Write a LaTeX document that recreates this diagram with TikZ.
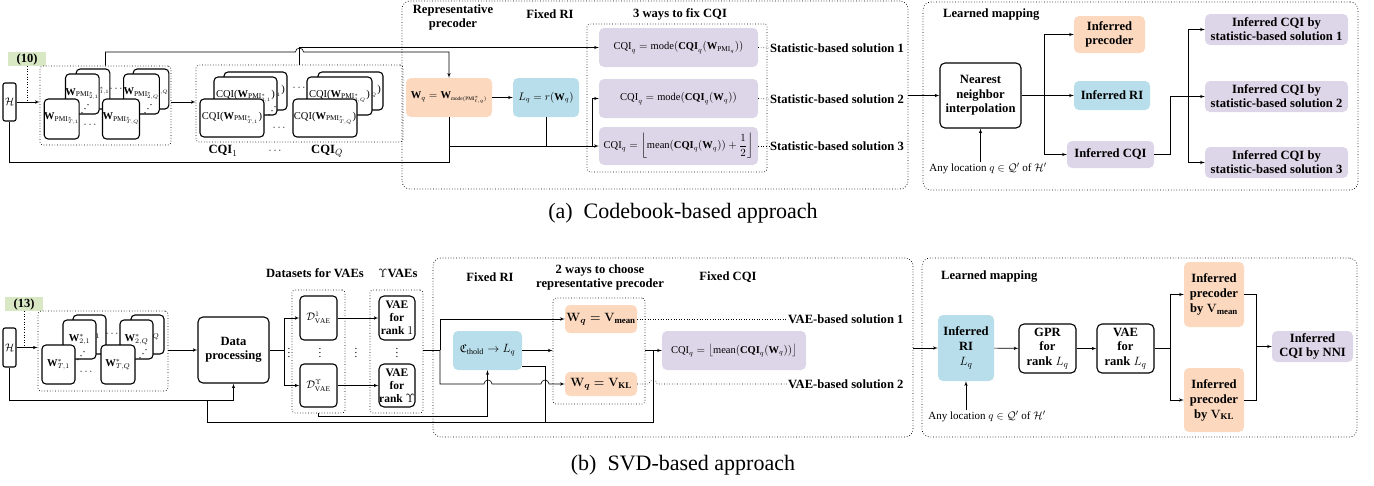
\documentclass[tikz,border=0pt]{standalone}
\usepackage{fontspec}
\setmainfont{Liberation Serif}
\usepackage{amsmath,amssymb}
\usetikzlibrary{arrows}
\definecolor{peach}{RGB}{251,216,190}
\definecolor{sky}{RGB}{183,222,234}
\definecolor{lilac}{RGB}{221,214,232}
\definecolor{tagG}{RGB}{216,231,196}

\begin{document}
\begin{tikzpicture}[x=1pt,y=-1pt]

\tikzset{flow/.style = {->,> = latex', line width=0.6pt}}
\tikzset{line/.style = {line width=0.6pt}}
\tikzset{panel/.style = {draw, dotted, rounded corners=8pt, line width=0.7pt}}
\tikzset{grp/.style = {draw, dotted, rounded corners=3pt, line width=0.7pt}}
\tikzset{card/.style = {draw, fill=white, rounded corners=4pt, line width=1.1pt, inner sep=0pt, font=\fontsize{10.5}{12}\selectfont}}
\tikzset{tag/.style = {fill=tagG, inner sep=0pt, font=\bfseries\fontsize{12.5}{13}\selectfont}}
\tikzset{blk/.style = {draw, fill=white, rounded corners=5pt, line width=1.1pt, align=center, inner sep=0pt, font=\bfseries\fontsize{12.6}{14.5}\selectfont}}
\tikzset{cbox/.style = {rounded corners=5pt, inner sep=0pt, align=center, font=\bfseries\fontsize{12.6}{13.8}\selectfont}}
\tikzset{fml/.style = {cbox, font=\fontsize{10.5}{12}\selectfont}}
\tikzset{head/.style = {align=center, inner sep=0pt, font=\bfseries\fontsize{12.6}{14}\selectfont}}
\tikzset{note/.style = {inner sep=0pt, font=\fontsize{11}{12}\selectfont}}

\useasboundingbox (0,0) rectangle (1374,485);

% panels (a)
\node[panel, minimum width=506pt, minimum height=188pt] (pa) at (655,95) {};
\node[panel, minimum width=435pt, minimum height=188pt] (pb) at (1140.5,96) {};

% codebook inputs
\node[tag, minimum width=38pt, minimum height=14pt] (t10) at (27,59) {(10)};
\node[card, minimum width=13pt, minimum height=38pt, rounded corners=2pt] (h1) at (9.5,102) {$\mathcal{H}$};
\node[grp, minimum width=131pt, minimum height=79pt] (g1) at (105.5,105.5) {};
\node[card, minimum width=32pt, minimum height=40pt] (w11) at (93,89) {$\mathbf{W}_{\mathrm{PMI}^*_{1,1}}$};
\node[card, minimum width=33pt, minimum height=40pt] (w21) at (82.3,94) {$\mathbf{W}_{\mathrm{PMI}^*_{2,1}}$};
\node[card, minimum width=32pt, minimum height=40pt] (wt1) at (61.7,119) {$\mathbf{W}_{\mathrm{PMI}^*_{T,1}}$};
\node[card, minimum width=32pt, minimum height=40pt] (w1q) at (151,89) {$\mathbf{W}_{\mathrm{PMI}^*_{1,Q}}$};
\node[card, minimum width=33pt, minimum height=40pt] (w2q) at (141.5,94) {$\mathbf{W}_{\mathrm{PMI}^*_{2,Q}}$};
\node[card, minimum width=34pt, minimum height=40pt] (wtq) at (121,119) {$\mathbf{W}_{\mathrm{PMI}^*_{T,Q}}$};
\node[note] (e1) at (117,89) {$\cdots$};
\node[note] (e2) at (91,125) {$\cdots$};
\node[note, rotate=90] (e3) at (82,109) {$\ddots$};
\node[note, rotate=90] (e4) at (145,109) {$\ddots$};

\node[grp, minimum width=207pt, minimum height=77pt] (g2) at (299.5,103.5) {};
\node[card, minimum width=63pt, minimum height=38pt] (c11) at (255.5,91) {CQI($\mathbf{W}_{\mathrm{PMI}^*_{1,1}}$)};
\node[card, minimum width=63pt, minimum height=38pt] (c21) at (245.5,96) {CQI($\mathbf{W}_{\mathrm{PMI}^*_{2,1}}$)};
\node[card, minimum width=64pt, minimum height=38pt] (ct1) at (232,118) {CQI($\mathbf{W}_{\mathrm{PMI}^*_{T,1}}$)};
\node[card, minimum width=65pt, minimum height=38pt] (c1q) at (350.5,91) {CQI($\mathbf{W}_{\mathrm{PMI}^*_{1,Q}}$)};
\node[card, minimum width=65pt, minimum height=38pt] (c2q) at (339.5,96) {CQI($\mathbf{W}_{\mathrm{PMI}^*_{2,Q}}$)};
\node[card, minimum width=64pt, minimum height=38pt] (ctq) at (325,118) {CQI($\mathbf{W}_{\mathrm{PMI}^*_{T,Q}}$)};
\node[note] (e5) at (300,88) {$\cdots$};
\node[note] (e6) at (280,128) {$\cdots$};
\node[note, rotate=90] (e7) at (269,111) {$\ddots$};
\node[head] (q1) at (223,151) {$\mathbf{CQI}_1$};
\node[note] (e8) at (276,151) {$\cdots$};
\node[head] (qq) at (327,151) {$\mathbf{CQI}_Q$};

% fixing RI and CQI
\node[head] (hrp) at (453,17) {Representative\\precoder};
\node[head] (hri) at (550,14) {Fixed RI};
\node[head] (hcq) at (680,14) {3 ways to fix CQI};
\node[grp, minimum width=180pt, minimum height=148pt] (g3w) at (677,98) {};
\node[fml, fill=peach, minimum width=86pt, minimum height=39pt] (wq) at (449,97.5) {$\mathbf{W}_q=\mathbf{W}_{\scriptscriptstyle\mathrm{mode}(\mathrm{PMI}^*_{t,q})}$};
\node[fml, fill=sky, minimum width=66pt, minimum height=39pt] (ri) at (546,97.5) {$L_q=r(\mathbf{W}_q)$};
\node[fml, fill=lilac, minimum width=159pt, minimum height=39pt] (cqi1) at (678.5,47.5) {$\mathrm{CQI}_q=\mathrm{mode}(\mathbf{CQI}_q(\mathbf{W}_{\mathrm{PMI}_q}))$};
\node[fml, fill=lilac, minimum width=159pt, minimum height=39pt] (cqi2) at (678.5,98.5) {$\mathrm{CQI}_q=\mathrm{mode}(\mathbf{CQI}_q(\mathbf{W}_q))$};
\node[fml, fill=lilac, minimum width=159pt, minimum height=38pt] (cqi3) at (678.5,146) {$\mathrm{CQI}_q=\left\lfloor\mathrm{mean}(\mathbf{CQI}_q(\mathbf{W}_q))+\dfrac{1}{2}\right\rfloor$};
\node[head, anchor=west] (sl1) at (770,48) {Statistic-based solution 1};
\node[head, anchor=west] (sl2) at (770,99) {Statistic-based solution 2};
\node[head, anchor=west] (sl3) at (770,146) {Statistic-based solution 3};

% learned mapping (a)
\node[head, anchor=west] (lm1) at (943,15) {Learned mapping};
\node[blk, minimum width=81pt, minimum height=65pt] (nn) at (980.5,95.5) {Nearest\\neighbor\\interpolation};
\node[note] (any1) at (988,168) {Any location $q\in\mathcal{Q}'$ of $\mathcal{H}'$};
\node[cbox, fill=peach, minimum width=71pt, minimum height=37pt] (ipc) at (1109.5,34.5) {Inferred\\precoder};
\node[cbox, fill=sky, minimum width=76pt, minimum height=29pt] (iri) at (1112,95.5) {Inferred RI};
\node[cbox, fill=lilac, minimum width=87pt, minimum height=27pt] (icq) at (1110.5,154.5) {Inferred CQI};
\node[cbox, fill=lilac, minimum width=143pt, minimum height=31pt] (is1) at (1276.5,29.5) {Inferred CQI by\\statistic-based solution 1};
\node[cbox, fill=lilac, minimum width=143pt, minimum height=31pt] (is2) at (1276.5,96.5) {Inferred CQI by\\statistic-based solution 2};
\node[cbox, fill=lilac, minimum width=143pt, minimum height=31pt] (is3) at (1276.5,162.5) {Inferred CQI by\\statistic-based solution 3};
\coordinate (jn) at (592,146);
\coordinate (bn) at (1044,95.5);
\coordinate (bs) at (1188,96.5);

%edges (a)
\draw[dotted, line] (t10.south) -- (t10.south |- h1.east);
\draw[flow] (h1.east) -- (h1.east -| g1.west);
\draw[flow] (g1.east |- h1) -- (g2.west |- h1);
\draw[flow] (g1.north) |- (295.5,52) arc (180:0:4pt) -- (wq.north |- 0,52) -- (wq.north);
\draw[flow] (g2.north) |- (cqi1.west);
\draw[line] (h1.south) |- (wq.south |- 0,162) -- (wq.south);
\draw[flow] (wq.south) |- (cqi3.west);
\draw[line] (ri.south) -- (ri.south |- cqi3.west);
\draw[flow] (jn) |- (cqi2.west);
\draw[flow] (wq) -- (ri);
\draw[dotted, line] (cqi1.east) -- (sl1.west);
\draw[dotted, line] (cqi2.east) -- (sl2.west);
\draw[dotted, line] (cqi3.east) -- (sl3.west);
\draw[flow] (pa.east |- nn) -- (nn);
\draw[flow] (any1.north -| nn.south) -- (nn.south);
\draw[line] (nn) -- (bn);
\draw[flow] (bn) |- (ipc.west);
\draw[flow] (bn) -- (iri.west);
\draw[flow] (bn) |- (icq.west);
\draw[line] (icq.east) -| (1170,96.5) -- (bs);
\draw[flow] (bs) |- (is1.west);
\draw[flow] (bs) -- (is2.west);
\draw[flow] (bs) |- (is3.west);

\node[font=\fontsize{22}{24}\selectfont] (capa) at (683,213) {(a)\enspace Codebook-based approach};

% panels (b)
\node[panel, minimum width=480pt, minimum height=179pt] (pc) at (673,347.5) {};
\node[panel, minimum width=435pt, minimum height=179pt] (pd) at (1139.5,347.5) {};

% SVD inputs
\node[tag, minimum width=38pt, minimum height=14pt] (t13) at (24,304) {(13)};
\node[card, minimum width=13pt, minimum height=39pt, rounded corners=2pt] (h2) at (9.5,347.5) {$\mathcal{H}$};
\node[grp, minimum width=130pt, minimum height=80pt] (g4) at (103,351) {};
\node[card, minimum width=33pt, minimum height=39pt] (v11) at (89.5,334.5) {$\mathbf{W}^*_{1,1}$};
\node[card, minimum width=33pt, minimum height=39pt] (v21) at (79.5,339.5) {$\mathbf{W}^*_{2,1}$};
\node[card, minimum width=33pt, minimum height=39pt] (vt1) at (58.5,364.5) {$\mathbf{W}^*_{T,1}$};
\node[card, minimum width=33pt, minimum height=39pt] (v1q) at (147.5,334.5) {$\mathbf{W}^*_{1,Q}$};
\node[card, minimum width=33pt, minimum height=39pt] (v2q) at (136.5,339.5) {$\mathbf{W}^*_{2,Q}$};
\node[card, minimum width=34pt, minimum height=39pt] (vtq) at (118,364.5) {$\mathbf{W}^*_{T,Q}$};
\node[note] (f1) at (113,334) {$\cdots$};
\node[note] (f2) at (87,372) {$\cdots$};
\node[note, rotate=90] (f3) at (78,356) {$\ddots$};
\node[note, rotate=90] (f4) at (140,354) {$\ddots$};

\node[blk, minimum width=71pt, minimum height=66pt] (dp) at (233.5,350) {Data\\processing};
\node[head] (hds) at (315,273) {Datasets for VAEs};
\node[head] (hvae) at (398,273) {$\Upsilon$VAEs};
\node[grp, minimum width=53pt, minimum height=123pt] (gds) at (318.5,351.5) {};
\node[card, minimum width=37pt, minimum height=44pt] (dv1) at (318.5,318) {$\mathcal{D}^1_{\mathrm{VAE}}$};
\node[card, minimum width=37pt, minimum height=43pt] (dvU) at (318.5,385.5) {$\mathcal{D}^{\Upsilon}_{\mathrm{VAE}}$};
\node[grp, minimum width=53pt, minimum height=123pt] (gva) at (396.5,351.5) {};
\node[blk, minimum width=36pt, minimum height=44pt, font=\bfseries\fontsize{11.5}{12.8}\selectfont] (va1) at (397,318) {VAE\\for\\rank $1$};
\node[blk, minimum width=36pt, minimum height=43pt, font=\bfseries\fontsize{11.5}{12.8}\selectfont] (vaU) at (397,385.5) {VAE\\for\\rank $\Upsilon$};
\node[note] (f5) at (289,350) {$\vdots$};
\node[note] (f6) at (320,350) {$\vdots$};
\node[note] (f7) at (356,350) {$\vdots$};
\node[note] (f8) at (397,350) {$\vdots$};

% fixing RI, precoder and CQI
\node[head] (hfr) at (490,277) {Fixed RI};
\node[head] (h2w) at (600,277.5) {2 ways to choose\\representative precoder};
\node[head] (hfc) at (728,277) {Fixed CQI};
\node[grp, minimum width=92pt, minimum height=106pt] (g2w) at (599,351) {};
\node[fml, fill=sky, minimum width=69pt, minimum height=39pt, font=\fontsize{11.5}{13}\selectfont] (cth) at (487.5,350.5) {$\mathfrak{C}_{\mathrm{thold}}\to L_q$};
\node[cbox, fill=peach, minimum width=72pt, minimum height=28pt] (vm) at (601,319) {$\boldsymbol{\mathbf{W}_q=\mathbf{V}_{\mathrm{mean}}}$};
\node[cbox, fill=peach, minimum width=72pt, minimum height=24pt] (vk) at (601,384) {$\boldsymbol{\mathbf{W}_q=\mathbf{V}_{\mathrm{KL}}}$};
\node[fml, fill=lilac, minimum width=144pt, minimum height=39pt] (cqb) at (734,350.5) {$\mathrm{CQI}_q=\left\lfloor\mathrm{mean}(\mathbf{CQI}_q(\mathbf{W}_q))\right\rfloor$};
\node[head, anchor=west] (vs1) at (788,319) {VAE-based solution 1};
\node[head, anchor=west] (vs2) at (788,384) {VAE-based solution 2};

% learned mapping (b)
\node[head, anchor=west] (lm2) at (941,277) {Learned mapping};
\node[cbox, fill=sky, minimum width=56pt, minimum height=66pt, font=\bfseries\fontsize{12.6}{15}\selectfont] (iri2) at (966,348) {Inferred\\RI\\$L_q$};
\node[note] (any2) at (987,416) {Any location $q\in\mathcal{Q}'$ of $\mathcal{H}'$};
\node[blk, minimum width=57pt, minimum height=49pt] (gpr) at (1047.5,348.5) {GPR\\for\\rank $L_q$};
\node[blk, minimum width=57pt, minimum height=49pt] (vae) at (1125.5,348.5) {VAE\\for\\rank $L_q$};
\node[cbox, fill=peach, minimum width=60pt, minimum height=65pt, font=\bfseries\fontsize{12.6}{15}\selectfont] (ipm) at (1214,294.5) {Inferred\\precoder\\by $\boldsymbol{\mathbf{V}_{\mathrm{mean}}}$};
\node[cbox, fill=peach, minimum width=60pt, minimum height=64pt, font=\bfseries\fontsize{12.6}{15}\selectfont] (ipk) at (1214,400) {Inferred\\precoder\\by $\boldsymbol{\mathbf{V}_{\mathrm{KL}}}$};
\node[cbox, fill=lilac, minimum width=81pt, minimum height=31pt] (icn) at (1312.5,346.5) {Inferred\\CQI by NNI};
\coordinate (hb) at (207,400);
\coordinate (bd) at (284,350);
\coordinate (bv) at (440,350);
\coordinate (mj) at (545,422);
\coordinate (bq) at (653,350.5);
\coordinate (bp) at (1170,348.5);
\coordinate (bm) at (1256,346.5);

%edges (b)
\draw[dotted, line] (t13.south) -- (t13.south |- h2.east);
\draw[flow] (h2.east) -- (h2.east -| g4.west);
\draw[flow] (g4.east |- dp) -- (dp.west);
\draw[flow] (h2.south) |- (dp.south |- hb) -- (dp.south);
\draw[line] (dp.east) -- (bd);
\draw[flow] (bd) |- (dv1.west);
\draw[flow] (bd) |- (dvU.west);
\draw[flow] (dv1) -- (va1);
\draw[flow] (dvU) -- (vaU);
\draw[line] (gva.east |- bv) -- (bv);
\draw[flow] (bv) |- (vm.west);
\draw[flow] (bv) |- (484,384) arc (180:0:4pt) -- (541,384) arc (180:0:4pt) -- (vk.west);
\draw[flow] (gds.south) |- (cth.south |- 0,416) -- (cth.south);
\draw[flow] (cth) -- (g2w.west |- cth);
\draw[flow] (g2w.east |- cqb) -- (cqb.west);
\draw[line] (cth.-25) -| (mj);
\draw[line] (hb) |- (bq |- mj) -- (bq);
\draw[dotted, line] (vm.east) -- (vs1.west);
\draw[dotted, line] (vk.east) -- (649,384) arc (180:0:4pt) -- (vs2.west);
\draw[flow] (pc.east |- iri2) -- (iri2.west);
\draw[flow] (any2.north -| iri2.south) -- (iri2.south);
\draw[flow] (iri2) -- (gpr);
\draw[flow] (gpr) -- (vae);
\draw[line] (vae) -- (bp);
\draw[flow] (bp) |- (ipm.west);
\draw[flow] (bp) |- (ipk.west);
\draw[line] (ipm.east) -| (bm);
\draw[line] (ipk.east) -| (bm);
\draw[flow] (bm) -- (icn.west);

\node[font=\fontsize{22}{24}\selectfont] (capb) at (683,465) {(b)\enspace SVD-based approach};

\end{tikzpicture}
\end{document}
